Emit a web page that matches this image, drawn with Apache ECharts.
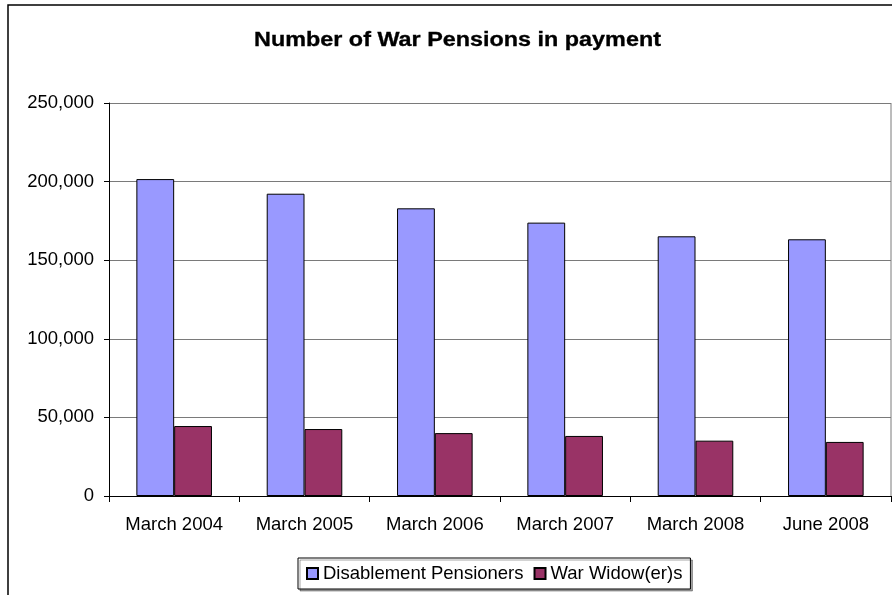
<!DOCTYPE html>
<html>
<head>
<meta charset="utf-8">
<script src="https://cdn.jsdelivr.net/npm/echarts@6/dist/echarts.min.js"></script>
<style>
html,body{margin:0;padding:0;background:#fff;}
#c{width:892px;height:595px;}
</style>
</head>
<body>
<div id="c"></div>
<script>
const titleText = 'Number of War Pensions in payment';
const categories = ['March 2004','March 2005','March 2006','March 2007','March 2008','June 2008'];
const disablement = [201600, 192300, 183000, 173900, 165200, 163300];
const widows = [44500, 42600, 40000, 38200, 35200, 34400];
const seriesNames = ['Disablement Pensioners', 'War Widow(er)s'];
const yTicks = [0, 50000, 100000, 150000, 200000, 250000];

const FONT = '"Liberation Sans", Arial, sans-serif';
const chart = echarts.init(document.getElementById('c'), null, {renderer:'canvas'});
chart.setOption({
  backgroundColor: '#fff',
  animation: false,
  legend: {
    data: seriesNames,
    left: 298, top: 558,
    padding: [6, 8, 6, 8],
    itemWidth: 11, itemHeight: 11, itemGap: 10,
    borderColor: '#000', borderWidth: 1, backgroundColor: '#fff',
    shadowColor: 'rgba(0,0,0,0.35)', shadowOffsetX: 2, shadowOffsetY: 2, shadowBlur: 0,
    icon: 'rect',
    textStyle: {fontFamily: FONT, fontSize: 18.5, color: '#000'}
  },
  grid: {left: 109, right: 1, top: 103, bottom: 99, containLabel: false},
  xAxis: {
    type: 'category',
    data: categories,
    axisLine: {lineStyle: {color: '#000', width: 1}},
    axisTick: {show: true, length: 6, lineStyle: {color: '#000'}},
    axisLabel: {fontFamily: FONT, fontSize: 18.5, color: '#000', margin: 19, interval: 0}
  },
  yAxis: {
    type: 'value',
    min: yTicks[0], max: yTicks[yTicks.length - 1], interval: 50000,
    axisLine: {show: true, lineStyle: {color: '#000', width: 1}},
    axisTick: {show: true, length: 5, lineStyle: {color: '#000'}},
    splitLine: {show: true, lineStyle: {color: '#7a7a7a', width: 1}},
    axisLabel: {
      fontFamily: FONT, fontSize: 18.5, color: '#000', margin: 15,
      formatter: v => v.toLocaleString('en-US')
    }
  },
  series: [
    {
      name: seriesNames[0], type: 'bar', data: disablement,
      barGap: '0%', barCategoryGap: '42%',
      itemStyle: {color: '#9999FF', borderColor: '#000', borderWidth: 1}
    },
    {
      name: seriesNames[1], type: 'bar', data: widows,
      barGap: '0%', barCategoryGap: '42%',
      itemStyle: {color: '#993366', borderColor: '#000', borderWidth: 1}
    }
  ],
  graphic: [
    {type: 'text', x: 457.5, y: 40.5, scaleX: 1.23, scaleY: 1.03, silent: true, z: 100,
     style: {text: titleText, textAlign: 'center', textVerticalAlign: 'middle',
             font: 'bold 19px "Liberation Sans", Arial, sans-serif', fill: '#000', stroke: '#000', lineWidth: 0.3}},
    {type: 'rect', shape: {x: 8, y: 5, width: 900, height: 620}, style: {fill: 'none', stroke: '#000', lineWidth: 1.5}, silent: true, z: 100},
    {type: 'line', shape: {x1: 891, y1: 103, x2: 891, y2: 496}, style: {stroke: '#7a7a7a', lineWidth: 1}, silent: true, z: 100}
  ]
});
</script>
</body>
</html>
